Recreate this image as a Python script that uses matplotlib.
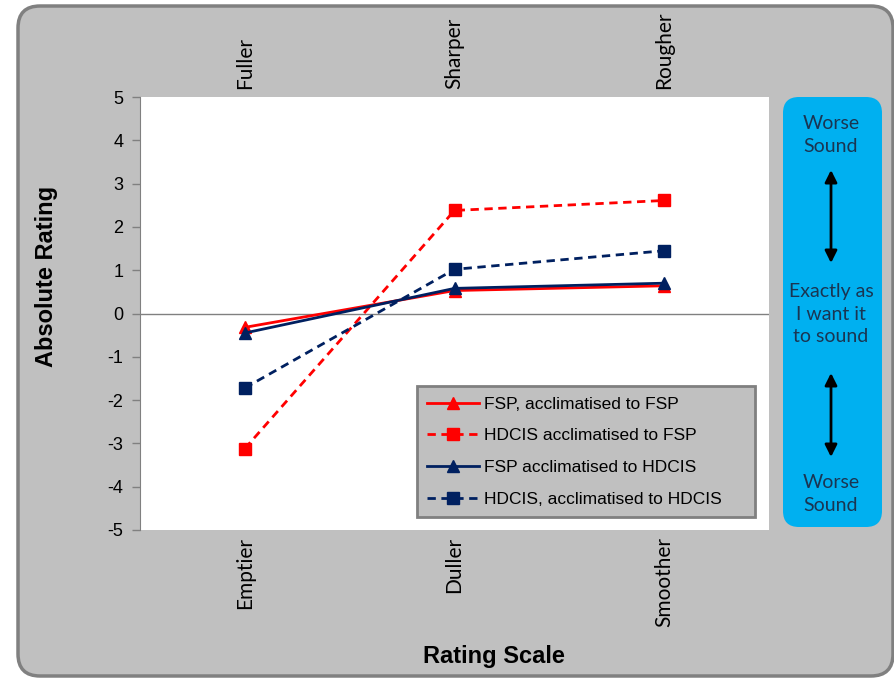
import matplotlib
matplotlib.use("Agg")
import matplotlib.pyplot as plt
from matplotlib.patches import FancyBboxPatch, FancyArrowPatch

plt.rcParams["axes.unicode_minus"] = False

# Ratings per attribute pair
low_labels = ["Emptier", "Duller", "Smoother"]
high_labels = ["Fuller", "Sharper", "Rougher"]

fsp_acc_fsp = [-0.32, 0.53, 0.64]
hdcis_acc_fsp = [-3.12, 2.38, 2.61]
fsp_acc_hdcis = [-0.45, 0.58, 0.70]
hdcis_acc_hdcis = [-1.72, 1.02, 1.45]

series_names = ["FSP, acclimatised to FSP", "HDCIS acclimatised to FSP",
                "FSP acclimatised to HDCIS", "HDCIS, acclimatised to HDCIS"]

RED = "#ff0000"
NAVY = "#002060"
GREY = "#c0c0c0"
EDGE = "#808080"
SANS = ["Liberation Sans", "DejaVu Sans"]
SOFT = ["Lato", "DejaVu Sans"]

W, H = 894, 678
fig = plt.figure(figsize=(W / 100, H / 100), dpi=100, facecolor="white")

# background layer in pixel coordinates
bg = fig.add_axes([0, 0, 1, 1], zorder=0)
bg.set_xlim(0, W)
bg.set_ylim(H, 0)
bg.axis("off")
bg.add_patch(FancyBboxPatch((18, 6), 875, 670,
                            boxstyle="round,pad=0,rounding_size=22",
                            fc=GREY, ec=EDGE, lw=2.5))

# main plot area
L, R, T, B = 140, 769, 97, 530
ax = fig.add_axes([L / W, 1 - B / H, (R - L) / W, (B - T) / H], zorder=1)
ax.set_facecolor("white")

x = range(len(low_labels))
ax.plot(x, fsp_acc_fsp, color=RED, lw=2, marker="^", ms=8, label=series_names[0])
ax.plot(x, hdcis_acc_fsp, color=RED, lw=2, ls=(0, (3, 2)), marker="s", ms=8,
        label=series_names[1])
ax.plot(x, fsp_acc_hdcis, color=NAVY, lw=2, marker="^", ms=8, label=series_names[2])
ax.plot(x, hdcis_acc_hdcis, color=NAVY, lw=2, ls=(0, (3, 2)), marker="s", ms=8,
        label=series_names[3])

ax.axhline(0, color=EDGE, lw=1, zorder=0)
ax.set_xlim(-0.5, 2.5)
ax.set_ylim(-5, 5)
ax.set_yticks(range(-5, 6))
for s in ["top", "right", "bottom"]:
    ax.spines[s].set_visible(False)
ax.spines["left"].set_color(EDGE)
ax.tick_params(axis="y", colors=EDGE, length=6, width=1, labelsize=13,
               labelcolor="black", pad=6)
for lbl in ax.get_yticklabels():
    lbl.set_fontfamily(SANS)

ax.set_xticks(list(x))
ax.set_xticklabels(low_labels, rotation=90, fontsize=15, fontfamily=SOFT)
ax.tick_params(axis="x", length=0, pad=5)

top = ax.secondary_xaxis("top")
top.set_xticks(list(x))
top.set_xticklabels(high_labels, rotation=90, fontsize=15, fontfamily=SOFT)
top.tick_params(axis="x", length=0, pad=6)
top.spines["top"].set_visible(False)

leg = ax.legend(loc="lower left", bbox_to_anchor=(0.44, 0.03, 0.538, 0.30),
                mode="expand", borderaxespad=0, fancybox=False, framealpha=1,
                facecolor=GREY, edgecolor=EDGE, handlelength=3.0,
                handletextpad=0.3, labelspacing=0.95, borderpad=0.6,
                prop={"family": SANS, "size": 12.5})
leg.get_frame().set_linewidth(2)

bg.text(47, 276, "Absolute Rating", rotation=90, ha="center", va="center",
        fontsize=17, fontweight="bold", fontfamily=SANS)
bg.text(494, 657, "Rating Scale", ha="center", va="center",
        fontsize=17, fontweight="bold", fontfamily=SANS)

# side scale with arrows
side = fig.add_axes([0, 0, 1, 1], zorder=2)
side.set_xlim(0, W)
side.set_ylim(H, 0)
side.axis("off")
side.add_patch(FancyBboxPatch((783, 97), 99, 430,
                              boxstyle="round,pad=0,rounding_size=16",
                              fc="#00b0f0", ec="none"))
TXT = "#1a3552"
cx = 831
side_kw = dict(ha="center", va="center", fontsize=14, fontfamily=SOFT,
               color=TXT, linespacing=1.4)
side.text(cx, 135, "Worse\nSound", **side_kw)
side.text(cx, 314, "Exactly as\nI want it\nto sound", **side_kw)
side.text(cx, 494, "Worse\nSound", **side_kw)
for y0, y1 in [(170, 263), (373, 457)]:
    side.add_patch(FancyArrowPatch((cx, y0), (cx, y1), arrowstyle="<|-|>",
                                   mutation_scale=18, color="black", lw=2,
                                   shrinkA=0, shrinkB=0))

fig.savefig("out.png", dpi=100, facecolor="white")
